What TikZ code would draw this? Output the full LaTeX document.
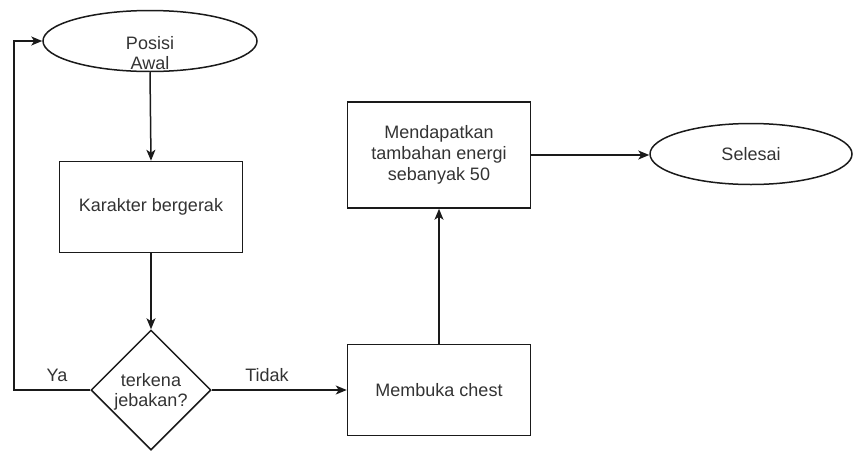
\documentclass[tikz,border=0pt]{standalone}
\usepackage{fontspec}
\setmainfont{Liberation Sans}
\usetikzlibrary{arrows.meta,shapes.geometric}
\definecolor{ink}{HTML}{1A1A1A}
\definecolor{txtgray}{HTML}{333333}
\tikzset{
  base/.style={draw=ink, line width=1.5pt, inner sep=0pt, font=\fontsize{18}{21}\selectfont, text=txtgray, align=center},
  procbox/.style={base, rectangle, minimum width=183pt, minimum height=91pt},
  term/.style={base, ellipse, minimum width=214pt, minimum height=61pt},
  decide/.style={base, diamond, minimum width=120pt, minimum height=120pt, aspect=1},
  txt/.style={font=\fontsize{18}{20}\selectfont, text=txtgray, align=center, inner sep=0pt},
  flow/.style={draw=ink, line width=1.5pt, -{Stealth[length=11pt,width=9pt,inset=3pt]}}
}
\begin{document}
\begin{tikzpicture}[x=1pt,y=-1pt]
  \useasboundingbox (0,0) rectangle (853,450);
  % start terminal (label sits low in the ellipse)
  \node[term] (start) at (150,41) {};
  \node[txt] (startlbl) at (150,53) {Posisi\\Awal};
  % processes
  \node[procbox] (move) at (151,207) {Karakter bergerak};
  \node[decide] (trap) at (151,390) {};
  \node[txt] (traplbl) at (151,392) {terkena\\jebakan?};
  \node[procbox] (chest) at (439,390) {Membuka chest};
  \node[procbox, minimum height=106pt] (energy) at (439,155) {Mendapatkan\\tambahan energi\\sebanyak 50};
  \node[term, minimum width=202pt, minimum height=61pt] (finish) at (751,154) {Selesai};
  % loop-back corner
  \coordinate (cornerlow) at (14,390);
  \coordinate (cornerhigh) at (14,41);
  % connectors
  \draw[flow] (start.south) -- (move.north);
  \draw[flow] (move.south) -- (trap.north);
  \draw[flow] (trap.west) -- (cornerlow) -- (cornerhigh) -- (start.west);
  \draw[flow] (trap.east) -- (chest.west);
  \draw[flow] (chest.north) -- (energy.south);
  \draw[flow] (energy.east) -- (energy.east -| finish.west);
  % branch labels
  \node[txt] (yes) at (57,375) {Ya};
  \node[txt] (no) at (267,375) {Tidak};
\end{tikzpicture}
\end{document}
